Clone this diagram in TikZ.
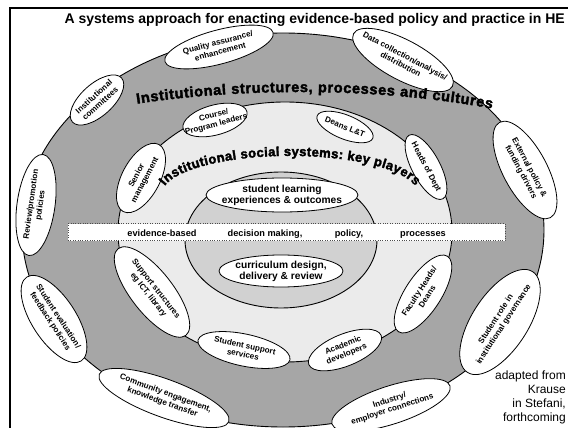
\documentclass[tikz,border=0pt]{standalone}
\usepackage{fontspec}
\setmainfont{Liberation Sans}
\newfontfamily\heavyfont{Liberation Sans Bold}[FakeBold=2.5]
\usetikzlibrary{shapes.geometric,decorations.text}

\definecolor{bandgray}{gray}{0.65}
\definecolor{ringgray}{gray}{0.92}
\definecolor{coregray}{gray}{0.82}

\tikzset{
  bubble/.style={ellipse, draw=black, line width=0.8pt, fill=white, inner sep=0pt},
  bubbletext/.style={align=center, inner sep=0pt,
    font=\bfseries\fontsize{8.1}{9.4}\selectfont},
  coretext/.style={align=center, inner sep=0pt,
    font=\bfseries\fontsize{10.2}{11}\selectfont},
  bannertext/.style={anchor=base, inner sep=0pt,
    font=\bfseries\fontsize{9.2}{11}\selectfont},
  ringline/.style={draw=black, line width=0.9pt},
}

% #1 name, #2 x, #3 y, #4 angle, #5 width, #6 height, #7 text
\newcommand\bubble[7]{%
  \node[bubble, rotate=#4, minimum width=#5pt, minimum height=#6pt] (#1) at (#2,#3) {};
  \node[bubbletext, rotate=#4] (#1-t) at (#1.center) {#7};}

\begin{document}
\begin{tikzpicture}[x=1pt,y=-1pt]
\useasboundingbox (0,0) rectangle (568,428);
\clip (0,0) rectangle (568,428);

% frame
\draw[line width=2.6pt] (10,8) rectangle (620,480);

% nested rings
\fill[bandgray] (283,230) ellipse [x radius=261, y radius=197];
\draw[ringline] (283,230) ellipse [x radius=261, y radius=197];
\fill[ringgray] (285,232) ellipse [x radius=167, y radius=130];
\draw[ringline] (285,232) ellipse [x radius=167, y radius=130];
\fill[coregray] (281,240) ellipse [x radius=96, y radius=68];
\draw[ringline] (281,240) ellipse [x radius=96, y radius=68];

% horizontal banner
\node[draw=gray!60!black, dotted, fill=white, minimum width=437pt,
      minimum height=17pt, inner sep=0pt] (banner) at (286.5,232) {};
\node[bannertext] (b1) at (162,236) {evidence-based};
\node[bannertext] (b2) at (265,236) {decision making,};
\node[bannertext] (b3) at (349,236) {policy,};
\node[bannertext] (b4) at (423,236) {processes};

% outer ring players
\bubble{qa}{219}{47}{15}{112}{34}{Quality assurance/\\enhancement}
\bubble{data}{403}{60}{-28}{112}{40}{Data collection/analysis/\\distribution}
\bubble{comm}{97}{100}{42}{66}{32}{Institutional\\committees}
\bubble{ext}{525}{170}{-62}{108}{44}{External policy \&\\funding drivers}
\bubble{rev}{36}{205}{82}{102}{38}{Review/promotion\\policies}
\bubble{seval}{54}{319}{-57}{100}{44}{Student evaluation/\\feedback policies}
\bubble{cmty}{164}{398}{-20}{138}{38}{Community engagement,\\knowledge transfer}
\bubble{ind}{391}{405}{18}{124}{38}{Industry/\\employer connections}
\bubble{srole}{500}{322}{57}{120}{56}{Student role in\\institutional governance}

% middle ring players
\bubble{course}{215}{120}{15}{66}{30}{Course/\\Program leaders}
\bubble{deans}{345}{127}{-22}{60}{24}{Deans L\&T}
\bubble{heads}{426}{167}{-62}{72}{28}{Heads of Dept}
\bubble{senior}{141}{178}{62}{76}{38}{Senior\\management}
\bubble{support}{152}{292}{-52}{110}{42}{Support structures\\eg ICT, library}
\bubble{ssup}{244}{350}{-12}{94}{32}{Student support\\services}
\bubble{acad}{345}{350}{22}{78}{32}{Academic\\developers}
\bubble{fac}{423}{294}{57}{90}{36}{Faculty Heads/\\Deans}

% core
\node[bubble, minimum width=152pt, minimum height=34pt] (learn) at (282,195) {};
\node[coretext] (learn-t) at (learn.center) {student learning\\experiences \& outcomes};
\node[bubble, minimum width=124pt, minimum height=32pt] (curr) at (281,271) {};
\node[coretext] (curr-t) at (curr.center) {curriculum design,\\delivery \& review};

% arched headings
\path[decorate, decoration={text along path, text align={fit to path},
  text={|\heavyfont\fontsize{14.5}{14.5}\selectfont|Institutional structures, processes and cultures}}]
  (137,103.7) arc[start angle=-116.9, end angle=-57.8, x radius=360, y radius=108];
\path[decorate, decoration={text along path, text align={fit to path},
  text={|\heavyfont\fontsize{13}{13}\selectfont|Institutional social systems: key players}}]
  (164.8,186) arc[start angle=-168, end angle=-12, x radius=128, y radius=38];

% title and source
\node[anchor=base east, inner sep=0pt, font=\bfseries\fontsize{14}{14}\selectfont]
  (title) at (565,24) {A systems approach for enacting evidence-based policy and practice in HE};
\node[anchor=north east, align=right, inner sep=0pt, font=\fontsize{12}{14}\selectfont]
  (src) at (566,371) {adapted from\\Krause\\in Stefani,\\forthcoming};
\end{tikzpicture}
\end{document}
